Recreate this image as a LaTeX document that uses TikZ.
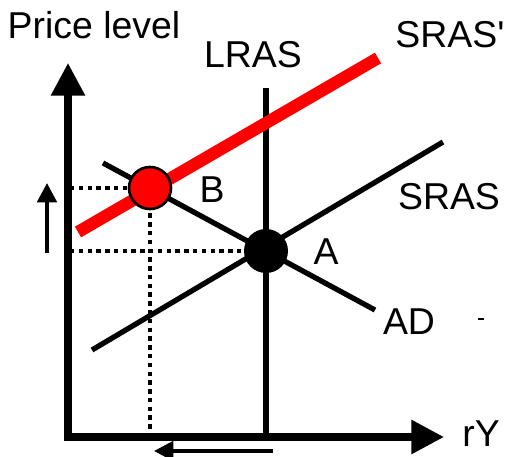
\documentclass[tikz,border=0pt]{standalone}
\usepackage{fontspec}
\setmainfont{Liberation Sans}
\usetikzlibrary{arrows.meta}
\begin{document}
\begin{tikzpicture}[x=0.02cm,y=-0.02cm,
  lbl/.style={font=\fontsize{21.3}{23}\selectfont, inner sep=0pt},
  axis/.style={line width=4pt, -{Triangle[width=18.5pt,length=18.5pt]}},
  curve/.style={line width=3pt},
  dots/.style={line width=1.8pt, dash pattern=on 2.5pt off 2.5pt},
  shiftarr/.style={line width=2.3pt, -{Triangle[width=11pt,length=11pt]}}]
\useasboundingbox (0,0) rectangle (508,457);
% axes
\coordinate (O) at (68,437);
\coordinate (ytop) at (68,63);
\coordinate (xend) at (444,437);
\draw[axis] (O) -- (ytop);
\draw[axis] ([xshift=-2pt]O) -- (xend);
% LRAS
\coordinate (lrasT) at (266,88);
\coordinate (lrasB) at (266,437);
\draw[line width=3.5pt] (lrasT) -- (lrasB);
% SRAS, AD
\coordinate (srasL) at (92,350);
\coordinate (srasR) at (443,142);
\draw[curve] (srasL) -- (srasR);
\coordinate (adL) at (103,163);
\coordinate (adR) at (375,310);
\draw[curve] (adL) -- (adR);
% SRAS'
\coordinate (srasPL) at (78,232);
\coordinate (srasPR) at (378,58);
\draw[red, line width=7pt] (srasPL) -- (srasPR);
% dotted guides
\coordinate (yB) at (70,188);
\coordinate (yA) at (70,251);
\coordinate (xB) at (150,435);
\coordinate (Bpt) at (150,188);
\coordinate (Apt) at (266,251);
\draw[dots] (yB) -- (Bpt) -- (xB);
\draw[dots] (yA) -- (Apt);
% points
\fill[black] (Apt) circle (22);
\draw[fill=red, line width=1.5pt] (Bpt) circle (21);
% shift arrows
\coordinate (ua1) at (47,253);
\coordinate (ua2) at (47,183);
\draw[shiftarr] (ua1) -- (ua2);
\coordinate (la1) at (273,451);
\coordinate (la2) at (154,451);
\draw[shiftarr] (la1) -- (la2);
% stray mark
\coordinate (m1) at (478,319);
\coordinate (m2) at (484,319);
\draw[line width=0.6pt] (m1) -- (m2);
% labels
\node[lbl] (tPL) at (94,25) {Price level};
\node[lbl] (tLRAS) at (253,55) {LRAS};
\node[lbl] (tSRASp) at (450,35) {SRAS\textquotesingle};
\node[lbl] (tB) at (212,190) {B};
\node[lbl] (tSRAS) at (449,197) {SRAS};
\node[lbl] (tA) at (326,252) {A};
\node[lbl] (tAD) at (409,322) {AD};
\node[lbl] (trY) at (481,434) {rY};
\end{tikzpicture}
\end{document}
